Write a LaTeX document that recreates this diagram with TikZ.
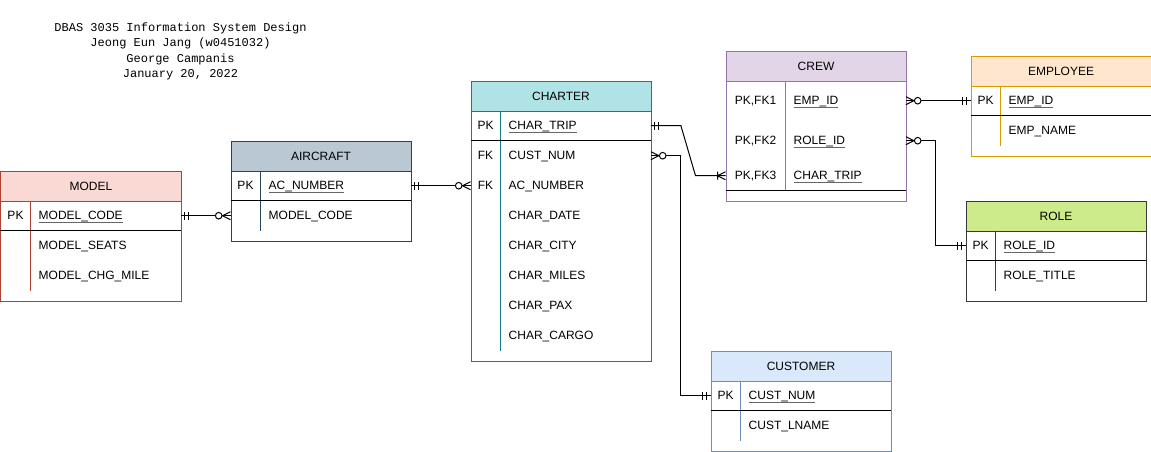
\documentclass[tikz,border=0pt]{standalone}
\usepackage{fontspec}
\setmainfont{Liberation Sans}
\newfontfamily\monofont{Liberation Mono}
\definecolor{mdlF}{HTML}{FAD9D5}\definecolor{mdlS}{HTML}{AE4132}
\definecolor{acF}{HTML}{BAC8D3}\definecolor{acS}{HTML}{23445D}
\definecolor{chF}{HTML}{B0E3E6}\definecolor{chS}{HTML}{0E8088}
\definecolor{crF}{HTML}{E1D5E7}\definecolor{crS}{HTML}{9673A6}
\definecolor{emF}{HTML}{FFE6CC}\definecolor{emS}{HTML}{D79B00}
\definecolor{roF}{HTML}{CDEB8B}\definecolor{roS}{HTML}{36393D}
\definecolor{cuF}{HTML}{DAE8FC}\definecolor{cuS}{HTML}{6C8EBF}
\newsavebox\ulbox
\newcommand\ulk[1]{\sbox\ulbox{#1}\rlap{\color{black!60}\rule[-3.4pt]{\wd\ulbox}{1.2pt}}\usebox\ulbox}
\tikzset{
  tbl/.style={anchor=north west, inner sep=0pt, minimum width=180pt, line width=1pt},
  hdr/.style={anchor=north west, inner sep=0pt, minimum width=180pt, minimum height=30pt, line width=1pt,
    font=\fontsize{12}{14}\selectfont, text height=10pt, text depth=1.4pt},
  rowbox/.style={anchor=north west, inner sep=0pt, minimum width=180pt, minimum height=30pt},
  keytxt/.style={anchor=center, inner sep=0pt, font=\fontsize{12}{14}\selectfont, text height=10pt, text depth=1.4pt},
  fldtxt/.style={anchor=west, inner sep=0pt, font=\fontsize{12}{14}\selectfont, text height=10pt, text depth=1.4pt},
  ttl/.style={anchor=center, inner sep=0pt, font=\monofont\fontsize{12}{14}\selectfont, text height=7.3pt, text depth=0pt},
  conn/.style={draw=black, line width=1pt},
  sepl/.style={line width=1pt},
  mandone/.pic={\draw[line width=1pt] (-4,-4) -- (-4,4) (-8,-4) -- (-8,4);},
  zeromany/.pic={\draw[line width=1pt] (0,-4) -- (-8,0) -- (0,4);
                 \draw[line width=1pt, fill=white] (-11.8,0) circle (3.3pt);},
  onemany/.pic={\draw[line width=1pt] (0,-4) -- (-8,0) -- (0,4) (-8,-4) -- (-8,4);},
}
\begin{document}
\begin{tikzpicture}[x=1pt,y=-1pt]
\useasboundingbox (-0.5,-0.5) rectangle (1150.5,450.5);
% title
\node[ttl] (t1) at (180,27) {DBAS 3035 Information System Design};
\node[ttl] (t2) at (180,42.7) {Jeong Eun Jang (w0451032)};
\node[ttl] (t3) at (180,58.3) {George Campanis};
\node[ttl] (t4) at (180,73.5) {January 20, 2022};

% MODEL
\node[tbl, draw=mdlS, minimum height=130pt] (model) at (0,170) {};
\node[hdr, fill=mdlF, draw=mdlS] (modelh) at (0,170) {MODEL};
\node[rowbox] (m1) at (0,200) {};
\node[rowbox] (m2) at (0,230) {};
\node[rowbox] (m3) at (0,260) {};
\draw[sepl, mdlS] (30,200) -- (30,290);
\draw[sepl, black] (m2.north west) -- (m2.north east);
\node[keytxt] (m1k) at (15,215) {PK};
\node[fldtxt] (m1f) at (38,215) {\ulk{MODEL\_CODE}};
\node[fldtxt] (m2f) at (38,245) {MODEL\_SEATS};
\node[fldtxt] (m3f) at (38,275) {MODEL\_CHG\_MILE};

% AIRCRAFT
\node[tbl, draw=acS, minimum height=100pt] (aircraft) at (230,140) {};
\node[hdr, fill=acF, draw=acS] (aircrafth) at (230,140) {AIRCRAFT};
\node[rowbox] (a1) at (230,170) {};
\node[rowbox] (a2) at (230,200) {};
\draw[sepl, acS] (260,170) -- (260,230);
\draw[sepl, black] (a2.north west) -- (a2.north east);
\node[keytxt] (a1k) at (245,185) {PK};
\node[fldtxt] (a1f) at (268,185) {\ulk{AC\_NUMBER}};
\node[fldtxt] (a2f) at (268,215) {MODEL\_CODE};

% CHARTER
\node[tbl, draw=chS, minimum height=280pt] (charter) at (470,80) {};
\node[hdr, fill=chF, draw=chS] (charterh) at (470,80) {CHARTER};
\foreach \i/\yy in {1/110,2/140,3/170,4/200,5/230,6/260,7/290,8/320}
  \node[rowbox] (c\i) at (470,\yy) {};
\draw[sepl, chS] (500,110) -- (500,350);
\draw[sepl, black] (c2.north west) -- (c2.north east);
\node[keytxt] (c1k) at (485,125) {PK};
\node[fldtxt] (c1f) at (508,125) {\ulk{CHAR\_TRIP}};
\node[keytxt] (c2k) at (485,155) {FK};
\node[fldtxt] (c2f) at (508,155) {CUST\_NUM};
\node[keytxt] (c3k) at (485,185) {FK};
\node[fldtxt] (c3f) at (508,185) {AC\_NUMBER};
\node[fldtxt] (c4f) at (508,215) {CHAR\_DATE};
\node[fldtxt] (c5f) at (508,245) {CHAR\_CITY};
\node[fldtxt] (c6f) at (508,275) {CHAR\_MILES};
\node[fldtxt] (c7f) at (508,305) {CHAR\_PAX};
\node[fldtxt] (c8f) at (508,335) {CHAR\_CARGO};

% CREW
\node[tbl, draw=crS, minimum height=150pt] (crew) at (725,50) {};
\node[hdr, fill=crF, draw=crS] (crewh) at (725,50) {CREW};
\node[rowbox, minimum height=40pt] (r1) at (725,80) {};
\node[rowbox, minimum height=40pt] (r2) at (725,120) {};
\node[rowbox, minimum height=30pt] (r3) at (725,160) {};
\draw[sepl, crS] (785,80) -- (785,190);
\draw[sepl, black] (r3.south west) -- (r3.south east);
\node[keytxt] (r1k) at (755,100) {PK,FK1};
\node[fldtxt] (r1f) at (793,100) {\ulk{EMP\_ID}};
\node[keytxt] (r2k) at (755,140) {PK,FK2};
\node[fldtxt] (r2f) at (793,140) {\ulk{ROLE\_ID}};
\node[keytxt] (r3k) at (755,175) {PK,FK3};
\node[fldtxt] (r3f) at (793,175) {\ulk{CHAR\_TRIP}};

% EMPLOYEE
\node[tbl, draw=emS, minimum height=100pt] (employee) at (970,55) {};
\node[hdr, fill=emF, draw=emS] (employeeh) at (970,55) {EMPLOYEE};
\node[rowbox] (e1) at (970,85) {};
\node[rowbox] (e2) at (970,115) {};
\draw[sepl, emS] (1000,85) -- (1000,145);
\draw[sepl, black] (e2.north west) -- (e2.north east);
\node[keytxt] (e1k) at (985,100) {PK};
\node[fldtxt] (e1f) at (1008,100) {\ulk{EMP\_ID}};
\node[fldtxt] (e2f) at (1008,130) {EMP\_NAME};

% ROLE
\node[tbl, draw=roS, minimum height=100pt] (role) at (965,200) {};
\node[hdr, fill=roF, draw=roS] (roleh) at (965,200) {ROLE};
\node[rowbox] (o1) at (965,230) {};
\node[rowbox] (o2) at (965,260) {};
\draw[sepl, roS] (995,230) -- (995,290);
\draw[sepl, black] (o2.north west) -- (o2.north east);
\node[keytxt] (o1k) at (980,245) {PK};
\node[fldtxt] (o1f) at (1003,245) {\ulk{ROLE\_ID}};
\node[fldtxt] (o2f) at (1003,275) {ROLE\_TITLE};

% CUSTOMER
\node[tbl, draw=cuS, minimum height=100pt] (customer) at (710,350) {};
\node[hdr, fill=cuF, draw=cuS] (customerh) at (710,350) {CUSTOMER};
\node[rowbox] (u1) at (710,380) {};
\node[rowbox] (u2) at (710,410) {};
\draw[sepl, cuS] (740,380) -- (740,440);
\draw[sepl, black] (u2.north west) -- (u2.north east);
\node[keytxt] (u1k) at (725,395) {PK};
\node[fldtxt] (u1f) at (748,395) {\ulk{CUST\_NUM}};
\node[fldtxt] (u2f) at (748,425) {CUST\_LNAME};

% connectors
\draw[conn] (m1.east) -- (a2.west);
\draw[conn] (a1.east) -- (c3.west);
\draw[conn] (c1.east) -- ++(30,0) -- ([xshift=-30pt]r3.west) -- (r3.west);
\draw[conn] (c2.east) -- ++(30,0) |- (u1.west);
\draw[conn] (r1.east) -- (e1.west);
\draw[conn] (r2.east) -- ++(30,0) |- (o1.west);

% end markers
\path (m1.east) pic[rotate=180] {mandone};
\path (a2.west) pic {zeromany};
\path (a1.east) pic[rotate=180] {mandone};
\path (c3.west) pic {zeromany};
\path (c1.east) pic[rotate=180] {mandone};
\path (r3.west) pic {onemany};
\path (c2.east) pic[rotate=180] {zeromany};
\path (u1.west) pic {mandone};
\path (r1.east) pic[rotate=180] {zeromany};
\path (e1.west) pic {mandone};
\path (r2.east) pic[rotate=180] {zeromany};
\path (o1.west) pic {mandone};
\end{tikzpicture}
\end{document}
